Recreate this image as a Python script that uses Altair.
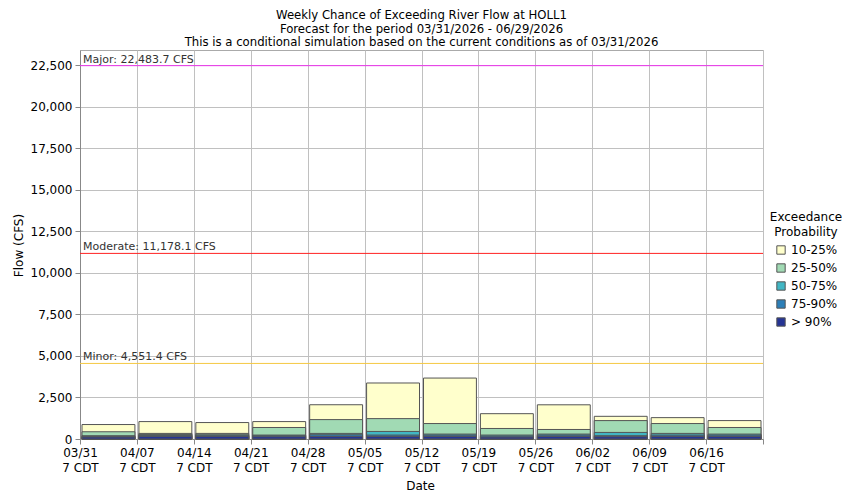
import json
import altair as alt
import pandas as pd

weeks = ["03/31", "04/07", "04/14", "04/21", "04/28", "05/05",
         "05/12", "05/19", "05/26", "06/02", "06/09", "06/16"]
classes = ["10-25%", "25-50%", "50-75%", "75-90%", "> 90%"]
class_colors = ["#FFFFCC", "#A1DAB4", "#41B6C4", "#2C7FB8", "#253494"]

p10 = [871, 1049, 990, 1049, 2063, 3373, 3670, 1525, 2059, 1366, 1287, 1109]
p25 = [436, 337, 337, 693, 1168, 1228, 931, 634, 574, 1109, 931, 693]
p50 = [198, 277, 257, 238, 337, 455, 297, 238, 297, 396, 337, 297]
p75 = [158, 218, 198, 198, 257, 238, 238, 178, 238, 198, 238, 238]
p90 = [119, 158, 158, 139, 158, 158, 158, 119, 158, 139, 158, 158]

flood_names = ["Minor", "Moderate", "Major"]
flood_values = [4551.4, 11178.1, 22483.7]
flood_labels = ["Minor: 4,551.4 CFS", "Moderate: 11,178.1 CFS", "Major: 22,483.7 CFS"]
flood_colors = ["#F5C842", "#FF2222", "#EE33EE"]

y_max = 23427.2

rows = []
for cls, series in zip(classes, [p10, p25, p50, p75, p90]):
    for i, v in enumerate(series):
        rows.append({"week": i, "week_end": i + 1, "cls": cls, "flow": v})
bars_df = pd.DataFrame(rows)

flood_df = pd.DataFrame({"name": flood_names, "value": flood_values,
                         "label": flood_labels})

label_expr = ("datum.value < 12 ? [" + json.dumps(weeks) +
              "[datum.value], '7 CDT'] : ''")

x_enc = alt.X("week:Q",
              scale=alt.Scale(domain=[0, 12], nice=False, zero=False, padding=0),
              axis=alt.Axis(values=list(range(13)), labelExpr=label_expr,
                            title="Date", titleFontWeight="normal",
                            titleFontSize=12, titleX=340, titleY=46,
                            titleBaseline="middle",
                            labelFontSize=12, labelLineHeight=15,
                            labelPadding=3, tickSize=5, labelFlush=False,
                            labelOverlap=False,
                            grid=True, gridColor="#c0c0c0",
                            domainColor="#888888", tickColor="#888888",
                            labelColor="#000000"))
y_enc = alt.Y("flow:Q", stack=None,
              scale=alt.Scale(domain=[0, y_max], nice=False, padding=0),
              axis=alt.Axis(values=list(range(0, 22501, 2500)), format=",d",
                            title="Flow (CFS)", titleFontWeight="normal",
                            titleFontSize=12, titleX=-62, titleY=195,
                            titleAngle=-90, titleAlign="center",
                            titleBaseline="middle", labelFlush=False,
                            labelFontSize=12, tickSize=5, labelPadding=3,
                            grid=True, gridColor="#c0c0c0",
                            domainColor="#888888", tickColor="#888888",
                            labelColor="#000000"))

bars = alt.Chart(bars_df).mark_bar(
    stroke="#555555", strokeWidth=1, xOffset=2, x2Offset=-2
).encode(
    x=x_enc,
    x2="week_end:Q",
    y=y_enc,
    y2=alt.datum(0),
    fill=alt.Fill("cls:N",
                  scale=alt.Scale(domain=classes, range=class_colors),
                  legend=alt.Legend(title=["Exceedance", "Probability"],
                                    titleAlign="center", titleAnchor="middle",
                                    titleFontWeight="normal", titleFontSize=12,
                                    titleLineHeight=15,
                                    labelFontSize=12, symbolType="square",
                                    symbolSize=70, symbolStrokeColor="#555555",
                                    symbolStrokeWidth=1, rowPadding=4,
                                    orient="none", legendX=690, legendY=162)),
)

layers = [bars]
for name, col in zip(flood_names, flood_colors):
    sub = flood_df[flood_df["name"] == name]
    layers.append(
        alt.Chart(sub).mark_rule(strokeWidth=1, color=col).encode(
            y=alt.Y("value:Q"))
    )

texts = alt.Chart(flood_df).mark_text(
    align="left", baseline="bottom", dx=3, dy=-1, fontSize=11, color="#333333"
).encode(
    x=alt.value(0),
    y=alt.Y("value:Q"),
    text="label:N",
)
layers.append(texts)

chart = alt.layer(*layers).properties(
    width=683, height=389,
    autosize=alt.AutoSizeParams(type="none"),
    padding={"left": 72, "top": 42, "right": 79, "bottom": 53},
    title=alt.TitleParams(
        text=["Weekly Chance of Exceeding River Flow at HOLL1",
              "Forecast for the period 03/31/2026 - 06/29/2026",
              "This is a conditional simulation based on the current conditions as of 03/31/2026"],
        fontSize=13, fontWeight="normal", font="DejaVu Sans Condensed, DejaVu Sans",
        anchor="middle", lineHeight=13.5, offset=1, color="#000000"),
).configure(font="DejaVu Sans").configure_view(stroke="#aaaaaa")

chart.save("out.html", embed_options={"renderer": "svg", "actions": False})
